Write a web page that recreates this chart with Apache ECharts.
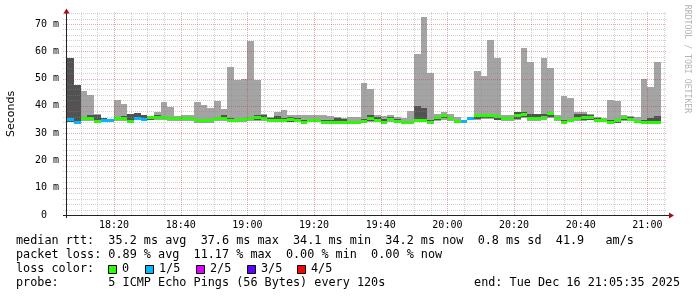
<!DOCTYPE html>
<html><head><meta charset="utf-8">
<script src="https://cdn.jsdelivr.net/npm/echarts@6/dist/echarts.min.js"></script>
<style>html,body{margin:0;padding:0;background:#fff}#c{width:697px;height:297px}</style>
</head><body><div id="c"></div>
<script>
// ---- data (milliseconds), one entry per 2-minute step, first step 18:04-18:06 ----
const firstStepStart = '18:04';
const stepMinutes = 2;
const medianRtt = [35.2,34.9,34.0,35.2,35.2,34.2,34.5,34.5,35.2,35.2,34.1,35.5,35.1,35.7,35.8,35.8,35.5,35.5,35.2,35.2,
  34.6,34.5,34.5,35.3,35.3,34.7,34.7,35.0,35.3,35.6,35.3,34.8,34.8,34.5,35.0,34.7,33.9,34.7,34.6,33.9,
  33.9,33.9,33.9,33.9,33.9,34.4,35.2,34.7,33.9,34.9,34.4,33.9,33.9,34.6,34.5,34.0,35.9,36.4,35.3,34.3,
  34.4,35.2,36.3,36.6,36.6,36.1,35.3,35.3,36.3,37.0,35.4,35.2,35.8,37.3,35.2,33.9,34.7,35.5,35.6,35.9,
  34.8,34.5,34.0,34.5,35.8,35.1,34.1,34.0,34.0,33.9];
const lostPings = [0,1,1,0,0,0,1,1,0,0,0,1,1,0,0,0,0,0,0,0,
  0,0,0,0,0,0,0,0,0,0,0,0,0,0,0,0,0,0,0,0,
  0,0,0,0,0,0,0,0,0,0,0,0,0,0,0,0,0,0,0,0,
  1,1,0,0,0,0,0,0,0,0,0,0,0,0,0,0,0,0,0,0,
  0,0,0,0,0,0,0,0,0,0];
const pingMin = [34.4,null,null,34.3,34.3,33.8,null,null,34.4,34.4,33.7,null,null,34.8,34.8,34.9,34.6,34.6,34.3,34.4,
  33.9,33.8,33.8,34.4,34.4,34.0,34.0,34.2,34.4,34.6,34.5,34.2,34.2,34.0,34.0,34.0,33.6,34.0,34.0,33.6,
  33.6,33.6,33.6,33.6,33.6,33.8,34.0,34.0,33.5,34.0,33.8,33.5,33.5,34.0,34.0,33.6,34.5,35.0,34.5,33.8,
  null,null,35.0,35.2,35.2,34.8,34.5,34.5,35.0,35.5,34.6,34.5,34.8,35.5,34.5,33.5,34.0,34.5,34.5,34.8,
  34.2,34.0,33.6,33.6,34.6,34.5,33.6,33.6,33.6,33.5];
const pingMax = [44.2,null,null,45.3,43.9,37.0,null,null,42.3,40.7,37.2,null,null,36.4,37.7,41.3,39.5,36.3,36.6,36.6,
  41.3,40.3,39.3,41.7,38.9,54.4,49.3,49.7,63.6,49.3,37.0,36.0,37.7,38.4,36.6,36.6,36.6,36.6,36.6,36.6,
  36.3,35.8,35.6,35.9,35.9,48.4,46.3,36.5,36.3,36.6,36.0,35.4,38.1,58.9,72.5,52.2,37.2,37.7,37.2,35.9,
  null,null,52.6,51.1,64.1,57.7,36.5,36.5,37.8,61.1,55.9,37.0,57.4,53.7,36.5,43.5,42.8,37.7,37.7,37.2,
  35.8,35.4,42.1,41.8,36.6,36.3,36.1,49.8,46.8,56.2];
const ping2nd = [34.8,34.2,33.6,34.8,34.7,34.0,34.0,34.0,34.8,34.8,33.9,35.0,34.5,35.0,35.2,35.2,35.0,35.0,34.8,34.8,
  34.2,34.1,34.1,34.9,34.9,34.3,34.3,34.5,34.8,35.0,34.8,34.4,34.5,34.2,34.0,34.3,33.7,34.2,34.2,33.7,
  33.7,33.7,33.7,33.7,33.7,34.0,34.6,34.2,33.7,34.3,34.0,33.7,33.7,34.2,34.2,33.7,34.8,35.4,34.8,34.0,
  34.0,34.8,35.3,35.6,35.6,35.0,34.8,34.8,35.3,35.8,35.0,34.8,35.2,35.8,34.8,33.7,34.2,34.8,34.8,35.0,
  34.4,34.2,33.7,33.7,35.0,34.7,33.8,33.7,33.7,33.6];
const ping4th = [36.0,57.4,47.8,36.0,36.5,36.8,35.6,35.3,35.8,36.2,36.9,37.5,36.7,36.2,36.5,36.4,36.0,36.0,35.8,35.9,
  35.2,35.0,35.1,36.0,36.6,35.4,35.2,35.6,35.9,36.5,36.8,35.4,36.3,35.5,36.0,35.5,35.0,35.3,35.3,34.8,
  34.8,35.4,35.2,34.6,34.6,35.3,36.8,36.0,35.3,36.0,35.2,34.6,34.6,39.9,39.3,35.0,36.0,37.0,36.0,35.0,
  35.0,36.0,36.8,37.0,37.0,36.8,35.8,35.8,37.7,37.7,37.0,36.9,37.1,37.3,36.0,35.0,35.3,36.9,36.9,36.5,
  35.4,35.0,34.8,35.0,36.0,35.8,35.0,34.8,35.4,36.3];
const xTickLabels = ['18:20','18:40','19:00','19:20','19:40','20:00','20:20','20:40','21:00'];
const yTickValues = [0,10,20,30,40,50,60,70];
const yTickLabels = ['0\u00a0\u00a0','10 m','20 m','30 m','40 m','50 m','60 m','70 m'];
const lossColors = ['#26ff00','#00b8ff','#dd00ff','#5e00ff','#ff0000'];
const lossLabels = ['0','1/5','2/5','3/5','4/5'];

// ---- helpers ----
const toMin = s => { const [h, m, sec] = s.split(':').map(Number); return (h - 18) * 60 + m + (sec || 0) / 60; };
const xMax = toMin('21:05:35');
const xMin = xMax - 180;
const yMax = 74.4;
const firstStart = toMin(firstStepStart);
const steps = medianRtt.map((v, i) => [firstStart + i * stepMinutes, firstStart + (i + 1) * stepMinutes, v]);
const xTickVals = xTickLabels.map(l => toMin(l));
const minorX = []; for (let v = 10; v < xMax; v += 5) if (v % 20 !== 0) minorX.push([v, 0]);
const majorX = xTickVals.map(v => [v, 0]);
const minorY = []; for (let v = 2; v <= 74; v += 2) if (v % 10 !== 0) minorY.push([xMin, v]);
const majorY = yTickValues.filter(v => v > 0).map(v => [xMin, v]);

const MONO = '"DejaVu Sans Mono", monospace';
const LEGEND_FONT = '11.8px ' + MONO;
const chart = echarts.init(document.getElementById('c'), null, {renderer: 'canvas'});

function smokeItem(params, api) {
  const i = params.dataIndex;
  const s = api.value(0), e = api.value(1);
  const kids = [];
  const band = (lo, hi, color) => {
    const a = api.coord([s, hi]), b = api.coord([e, lo]);
    const x0 = Math.round(a[0]), x1 = Math.round(b[0]);
    const y0 = Math.round(a[1]), y1 = Math.round(b[1]);
    kids.push({type: 'rect', shape: {x: x0, y: y0, width: x1 - x0, height: Math.max(1, y1 - y0)}, style: {fill: color}});
  };
  if (pingMax[i] != null) band(pingMin[i], pingMax[i], '#a4a4a4');
  band(ping2nd[i], ping4th[i], '#525252');
  const a = api.coord([s, api.value(2)]), b = api.coord([e, api.value(2)]);
  const x0 = Math.round(a[0]), x1 = Math.round(b[0]);
  kids.push({type: 'rect', shape: {x: x0, y: Math.round(a[1] - 1.5), width: x1 - x0, height: 3},
    style: {fill: lossColors[lostPings[i]]}});
  return {type: 'group', children: kids};
}

function vLine(color) {
  return function (params, api) {
    const p = api.coord([api.value(0), 0]);
    const t = api.coord([api.value(0), yMax]);
    const x = Math.round(p[0]) + 0.5;
    return {type: 'line', shape: {x1: x, y1: p[1], x2: x, y2: t[1]},
      style: {stroke: color, lineWidth: 1, lineDash: [1, 1]}};
  };
}
function hLine(color) {
  return function (params, api) {
    const p = api.coord([xMin, api.value(1)]);
    const q = api.coord([xMax, api.value(1)]);
    const y = Math.round(p[1]) + 0.5;
    return {type: 'line', shape: {x1: p[0] - 3, y1: y, x2: q[0] + 1, y2: y},
      style: {stroke: color, lineWidth: 1, lineDash: [1, 1]}};
  };
}

const legendRows = [
  'median rtt:  35.2 ms avg  37.6 ms max  34.1 ms min  34.2 ms now  0.8 ms sd  41.9   am/s',
  'packet loss: 0.89 % avg  11.17 % max  0.00 % min  0.00 % now',
  'loss color:',
  'probe:       5 ICMP Echo Pings (56 Bytes) every 120s'
];
const rowY = [241, 255, 269, 283];
const graphics = [];
legendRows.forEach((t, i) => graphics.push({type: 'text', x: 16, y: rowY[i],
  style: {text: t, font: LEGEND_FONT, fill: '#000', textVerticalAlign: 'middle'}}));
graphics.push({type: 'text', x: 680, y: 283,
  style: {text: 'end: Tue Dec 16 21:05:35 2025', font: LEGEND_FONT, fill: '#000', textAlign: 'right', textVerticalAlign: 'middle'}});
const boxX = [108, 145, 196, 247, 297];
lossLabels.forEach((l, i) => {
  graphics.push({type: 'rect', shape: {x: boxX[i] + 0.5, y: 265.5, width: 8, height: 8},
    style: {fill: lossColors[i], stroke: '#000', lineWidth: 1}});
  graphics.push({type: 'text', x: boxX[i] + 14, y: 269,
    style: {text: l, font: LEGEND_FONT, fill: '#000', textVerticalAlign: 'middle'}});
});
graphics.push({type: 'text', x: 11, y: 114, rotation: Math.PI / 2,
  style: {text: 'Seconds', font: '11px "DejaVu Sans", sans-serif', fill: '#000', textAlign: 'center', textVerticalAlign: 'middle'}});
graphics.push({type: 'text', x: 687, y: 59, rotation: -Math.PI / 2,
  style: {text: 'RRDTOOL / TOBI OETIKER', font: '8.2px ' + MONO, fill: '#b4b4b4', textAlign: 'center', textVerticalAlign: 'middle'}});
// axis lines and arrows
graphics.push({type: 'line', shape: {x1: 66.5, y1: 218, x2: 66.5, y2: 13}, style: {stroke: '#222', lineWidth: 1}, z: 10});
graphics.push({type: 'line', shape: {x1: 63, y1: 215.5, x2: 669, y2: 215.5}, style: {stroke: '#222', lineWidth: 1}, z: 10});
graphics.push({type: 'polygon', shape: {points: [[66.5, 8.5], [63.5, 13.5], [69.5, 13.5]]}, style: {fill: '#a81010'}, z: 10});
graphics.push({type: 'polygon', shape: {points: [[674, 215.5], [669, 212.5], [669, 218.5]]}, style: {fill: '#a81010'}, z: 10});

chart.setOption({
  animation: false,
  backgroundColor: '#fff',
  grid: {left: 66, right: 31, top: 12, bottom: 82},
  xAxis: {type: 'value', min: xMin, max: xMax,
    axisLine: {show: false}, axisTick: {show: false}, splitLine: {show: false},
    axisLabel: {customValues: xTickVals, formatter: v => xTickLabels[xTickVals.findIndex(t => Math.abs(t - v) < 1e-6)] || '',
      fontFamily: MONO, fontSize: 10, color: '#000', margin: 5}},
  yAxis: {type: 'value', min: 0, max: yMax,
    axisLine: {show: false}, axisTick: {show: false}, splitLine: {show: false},
    axisLabel: {customValues: yTickValues, formatter: v => yTickLabels[yTickValues.indexOf(Math.round(v))] || '',
      fontFamily: MONO, fontSize: 10, color: '#000', margin: 7}},
  series: [
    {type: 'custom', name: 'smoke', data: steps, renderItem: smokeItem, clip: true, z: 2, silent: true,
      encode: {x: [0, 1], y: 2}},
    {type: 'custom', data: minorX, renderItem: vLine('rgba(140,140,140,0.4)'), z: 5, silent: true, clip: false},
    {type: 'custom', data: minorY, renderItem: hLine('rgba(140,140,140,0.4)'), z: 5, silent: true, clip: false},
    {type: 'custom', data: majorX, renderItem: vLine('rgba(210,40,40,0.4)'), z: 6, silent: true, clip: false},
    {type: 'custom', data: majorY, renderItem: hLine('rgba(210,40,40,0.4)'), z: 6, silent: true, clip: false}
  ],
  graphic: graphics
});
</script></body></html>
